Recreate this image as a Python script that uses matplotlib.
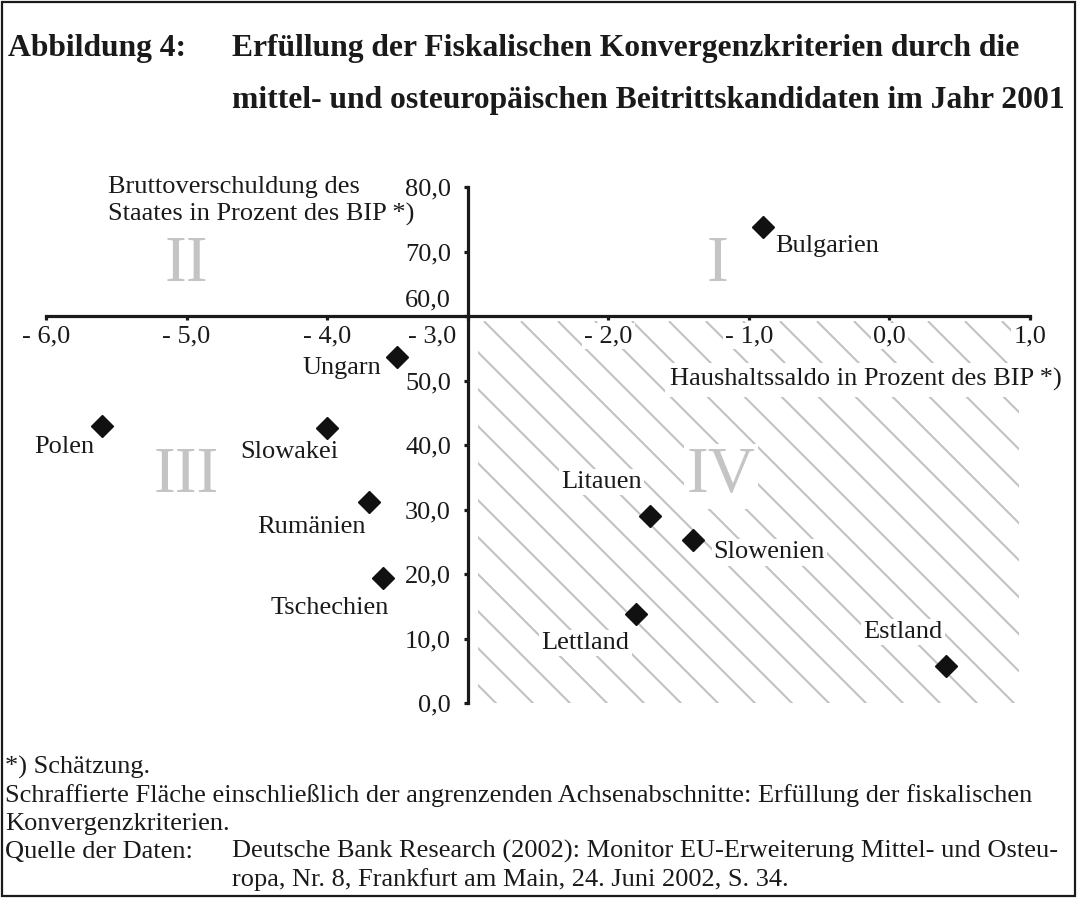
import matplotlib
matplotlib.use("Agg")
import matplotlib.pyplot as plt
from matplotlib.patches import Rectangle
from matplotlib.transforms import ScaledTranslation
import numpy as np

# ---------------- data ----------------
countries = ["Bulgarien", "Ungarn", "Polen", "Slowakei", "Rumänien",
             "Tschechien", "Litauen", "Slowenien", "Lettland", "Estland"]
haushaltssaldo = [-0.9, -3.5, -5.6, -4.0, -3.7, -3.6, -1.7, -1.4, -1.8, 0.4]
bruttoschuld = [73.8, 53.6, 42.9, 42.7, 31.1, 19.4, 29.0, 25.2, 13.8, 5.7]

x_ticks = [-6, -5, -4, -3, -2, -1, 0, 1]
x_tick_labels = ["- 6,0", "- 5,0", "- 4,0", "- 3,0", "- 2,0", "- 1,0", "0,0", "1,0"]
y_ticks = [0, 10, 20, 30, 40, 50, 60, 70, 80]
y_tick_labels = ["0,0", "10,0", "20,0", "30,0", "40,0", "50,0", "60,0", "70,0", "80,0"]

quadrant_names = ["I", "II", "III", "IV"]

# ---------------- styling / positions ----------------
W, H = 1078, 900
SERIF = ["Liberation Serif", "DejaVu Serif"]
TXT = "#1a1a1a"
FS = 19

# label offsets (pixels) and alignment
label_offsets = [(12, -19), (-16, -11), (-8, -21), (11, -24), (-4, -25),
                 (6, -30), (-9, 34), (21, -12), (-7, -29), (-3, 34)]
label_ha = ["left", "right", "right", "right", "right",
            "right", "right", "left", "right", "right"]
quadrant_pos = [(-1.22, 65.4), (-5.0, 65.4), (-5.0, 32.7), (-1.2, 32.7)]

plt.rcParams["font.family"] = SERIF

fig = plt.figure(figsize=(W / 100, H / 100), dpi=100)
fig.patch.set_facecolor("white")

def fx(px):
    return px / W

def fy(py):
    return 1 - py / H

# axes: x -6..1 -> px 46..1030 ; y 0..80 -> py 703..187
ax = fig.add_axes([fx(46), fy(703), (1030 - 46) / W, (703 - 187) / H])
ax.set_xlim(-6, 1)
ax.set_ylim(0, 80)
ax.patch.set_alpha(0)

for s in ["top", "right"]:
    ax.spines[s].set_visible(False)
ax.spines["left"].set_position(("data", -3))
ax.spines["bottom"].set_position(("data", 60))
for s in ["left", "bottom"]:
    ax.spines[s].set_linewidth(2.3)
    ax.spines[s].set_color(TXT)
    ax.spines[s].set_zorder(5)

ax.set_xticks(x_ticks)
ax.set_xticklabels(x_tick_labels, fontsize=FS, color=TXT,
                   bbox=dict(facecolor="white", edgecolor="none", pad=1.5))
ax.set_yticks(y_ticks)
ax.set_yticklabels(y_tick_labels, fontsize=FS, color=TXT)
ax.tick_params(axis="x", direction="out", length=3, width=2.3, color=TXT, pad=3.5)
ax.tick_params(axis="y", direction="out", length=3, width=2.3, color=TXT, pad=9)

# shift the "- 3,0" label left and the "60,0" label up
for lab, val in zip(ax.get_xticklabels(), x_ticks):
    if val == -3:
        lab.set_transform(lab.get_transform() + ScaledTranslation(-36 / 100, 0, fig.dpi_scale_trans))
for lab, val in zip(ax.get_yticklabels(), y_ticks):
    if val == 60:
        lab.set_transform(lab.get_transform() + ScaledTranslation(0, 18 / 100, fig.dpi_scale_trans))

# ---------------- hatch of quadrant IV ----------------
hx0, hx1, hy0, hy1 = -2.925, 0.925, 0.0, 59.2
bb = ax.get_position()
px_per_x = bb.width * W / 7.0
px_per_y = bb.height * H / 80.0
k = px_per_x / px_per_y           # data-y per data-x for a 45 deg line
dx = 37.0 / px_per_x              # spacing of lines along x
clip = Rectangle((hx0, hy0), hx1 - hx0, hy1 - hy0, transform=ax.transData,
                 facecolor="none", edgecolor="none")
ax.add_patch(clip)
x_start = -4.99
n0 = int(np.floor((hx0 - (hy1 - hy0) / k - x_start) / dx)) - 1
n1 = int(np.ceil((hx1 - x_start) / dx)) + 1
for n in range(n0, n1 + 1):
    xt = x_start + n * dx
    xs = [xt, xt + (hy1 + 1) / k]
    ys = [hy1, -1]
    ln, = ax.plot(xs, ys, color="#c2c2c2", lw=1.5, zorder=1, solid_capstyle="butt")
    ln.set_clip_path(clip)

# ---------------- quadrant numerals ----------------
for name, (qx, qy) in zip(quadrant_names, quadrant_pos):
    ax.text(qx, qy, name, fontsize=47, color="#c4c4c4", ha="center", va="baseline",
            zorder=3, bbox=dict(facecolor="white", edgecolor="none", pad=2))

# ---------------- points & labels ----------------
ax.plot(haushaltssaldo, bruttoschuld, linestyle="none", marker="D", markersize=11.5,
        color="#111111", zorder=6, clip_on=False)
for name, xv, yv, off, ha in zip(countries, haushaltssaldo, bruttoschuld, label_offsets, label_ha):
    ax.annotate(name, (xv, yv), xytext=off, textcoords="offset pixels",
                ha=ha, va="center", fontsize=FS, color=TXT, zorder=4,
                bbox=dict(facecolor="white", edgecolor="none", pad=1.5))

# ---------------- axis titles ----------------
fig.text(fx(108), fy(193), "Bruttoverschuldung des", fontsize=FS, color=TXT, va="baseline")
fig.text(fx(108), fy(221), "Staates in Prozent des BIP *)", fontsize=FS, color=TXT, va="baseline")
fig.text(fx(1062), fy(386), "Haushaltssaldo in Prozent des BIP *)", fontsize=FS, color=TXT,
         ha="right", va="baseline", zorder=4,
         bbox=dict(facecolor="white", edgecolor="none", pad=4))

# ---------------- title ----------------
TFS = 22.8
fig.text(fx(8), fy(56), "Abbildung 4:", fontsize=TFS, fontweight="bold", color=TXT, va="baseline")
fig.text(fx(232), fy(56), "Erfüllung der Fiskalischen Konvergenzkriterien durch die",
         fontsize=TFS, fontweight="bold", color=TXT, va="baseline")
fig.text(fx(232), fy(108), "mittel- und osteuropäischen Beitrittskandidaten im Jahr 2001",
         fontsize=TFS, fontweight="bold", color=TXT, va="baseline")

# ---------------- footnotes ----------------
fig.text(fx(5), fy(774), "*) Schätzung.", fontsize=FS, color=TXT, va="baseline")
fig.text(fx(5), fy(802), "Schraffierte Fläche einschließlich der angrenzenden Achsenabschnitte: "
         "Erfüllung der fiskalischen", fontsize=FS, color=TXT, va="baseline")
fig.text(fx(5), fy(830), "Konvergenzkriterien.", fontsize=FS, color=TXT, va="baseline")
fig.text(fx(5), fy(858), "Quelle der Daten:", fontsize=FS, color=TXT, va="baseline")
fig.text(fx(232), fy(858), "Deutsche Bank Research (2002): Monitor EU-Erweiterung Mittel- und Osteu-",
         fontsize=FS, color=TXT, va="baseline")
fig.text(fx(232), fy(886), "ropa, Nr. 8, Frankfurt am Main, 24. Juni 2002, S. 34.",
         fontsize=FS, color=TXT, va="baseline")

# ---------------- frame ----------------
fig.patches.append(Rectangle((fx(2), fy(896)), (1075 - 2) / W, (896 - 2) / H,
                             transform=fig.transFigure, fill=False,
                             edgecolor=TXT, linewidth=1.6))

fig.savefig("out.png", dpi=100, facecolor="white")
